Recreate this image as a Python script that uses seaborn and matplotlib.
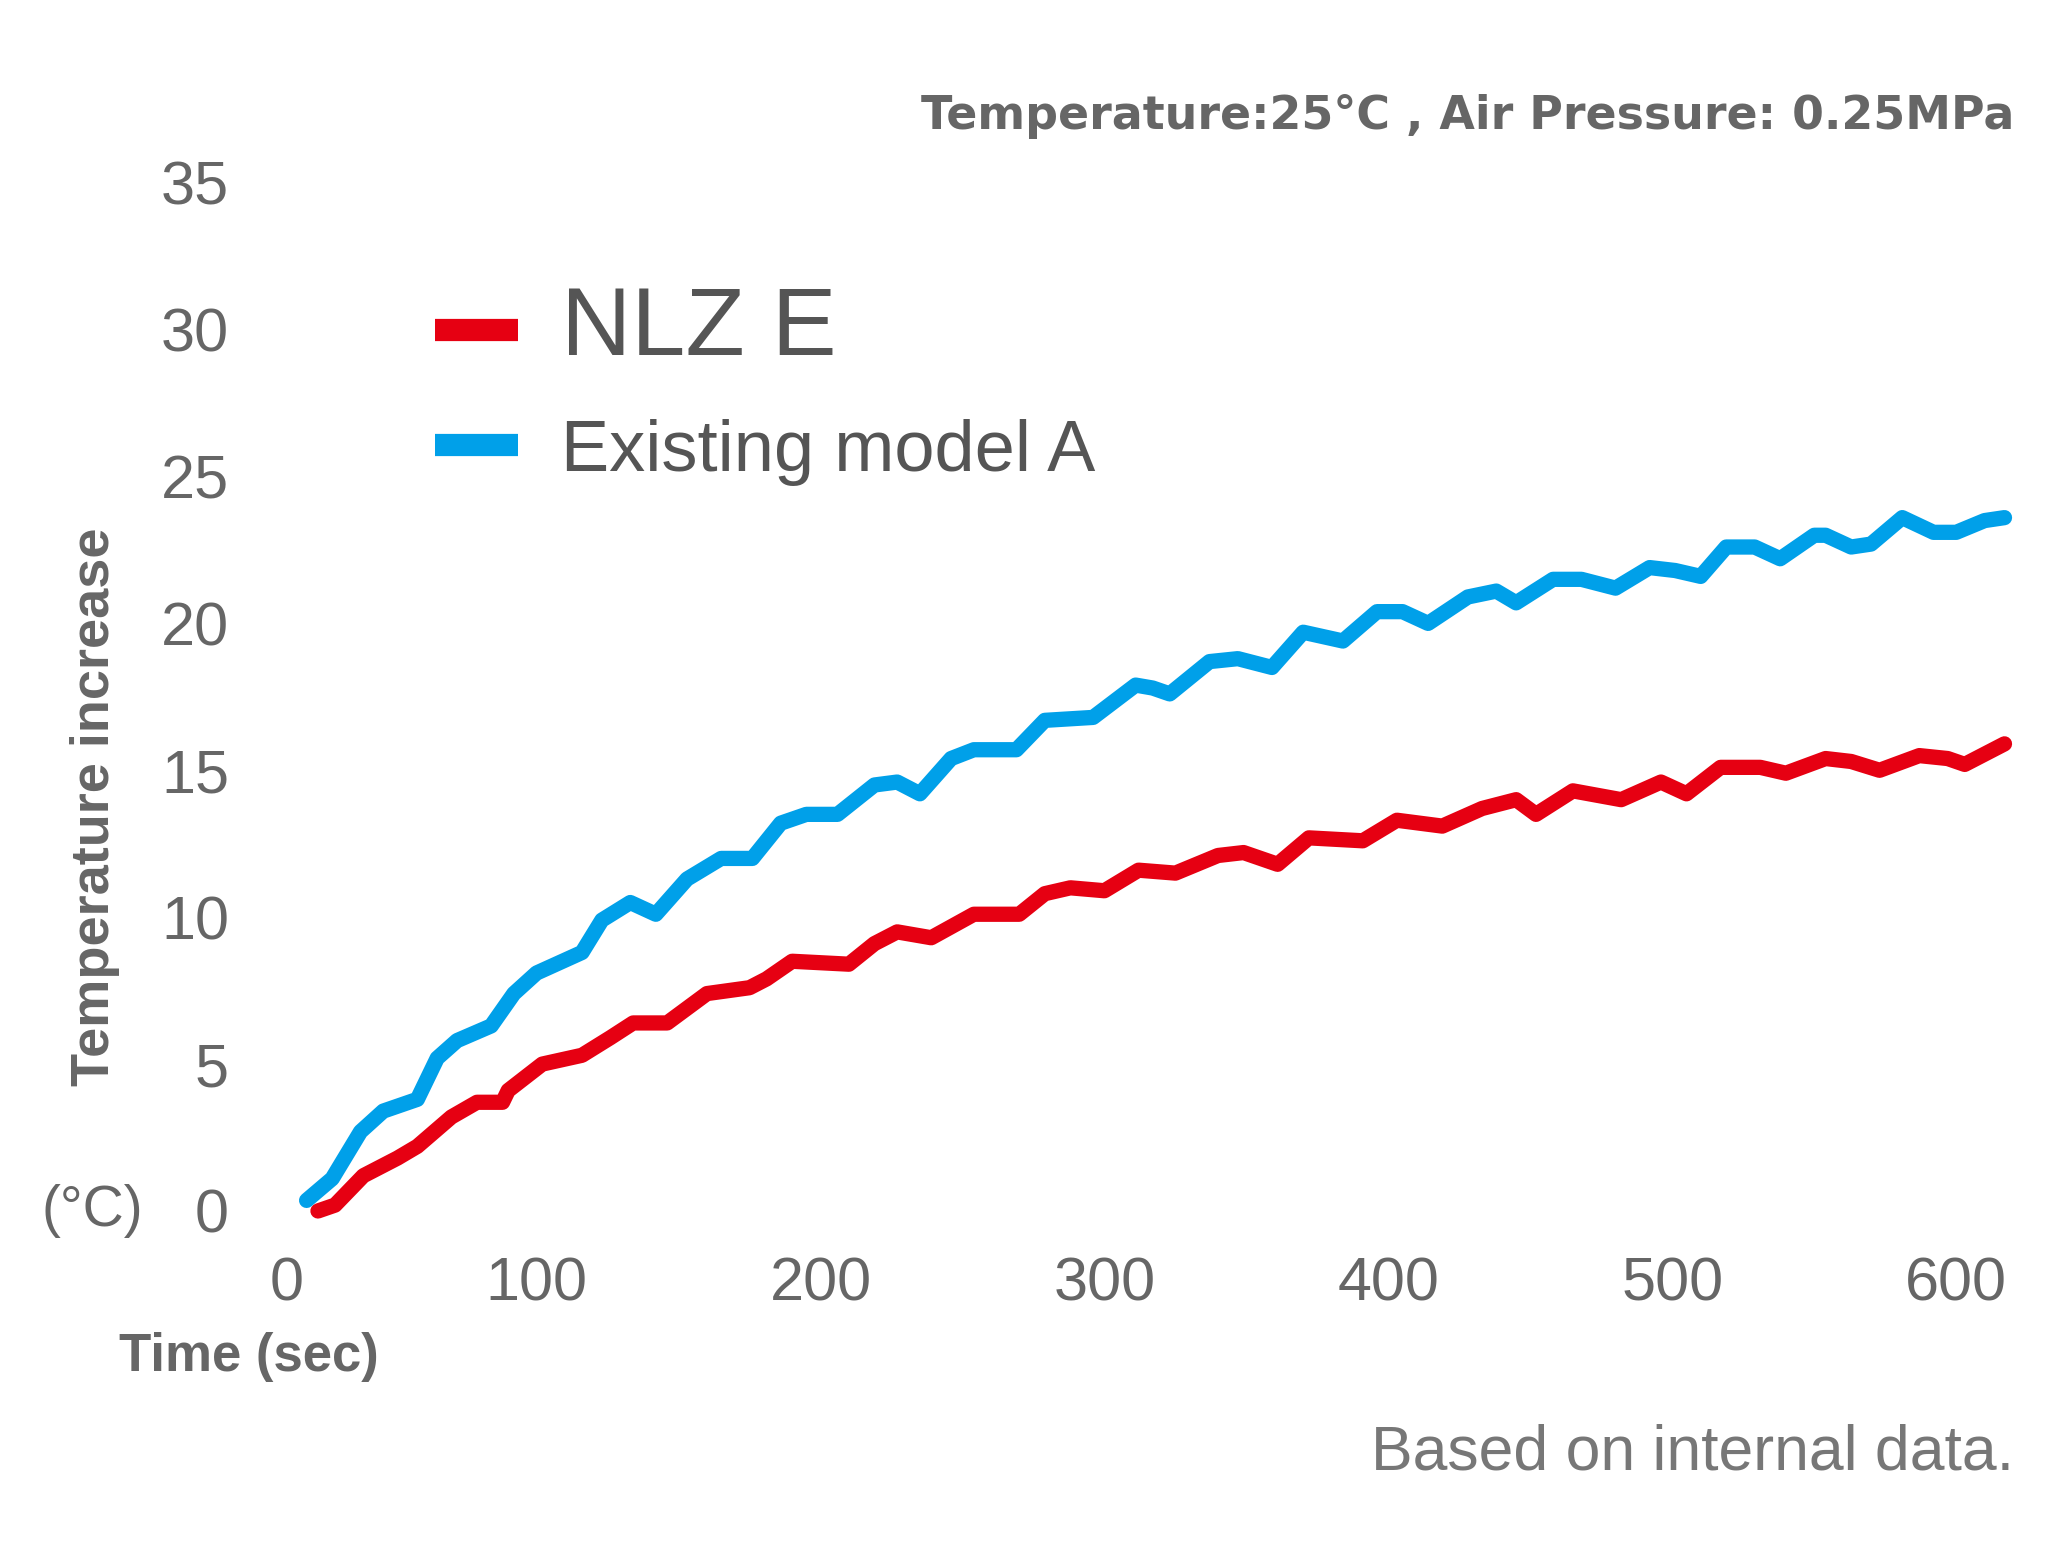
import pandas as pd
import matplotlib
matplotlib.use('Agg')
import matplotlib.pyplot as plt
import matplotlib.transforms as mtransforms
import seaborn as sns

# Series (time in sec, temperature rise in deg C)
nlz_time = [23, 29, 39, 51, 58, 70, 79, 88, 90, 102, 116, 126, 134, 146, 160, 175, 181, 190,
            210, 219, 227, 239, 254, 270, 279, 288, 300, 312, 325, 340, 349, 361, 372, 391,
            403, 419, 433, 445, 452, 465, 482, 496, 505, 517, 531, 540, 554, 563, 573, 587,
            597, 603, 617]
nlz_temp = [0.0, 0.2, 1.2, 1.8, 2.2, 3.2, 3.7, 3.7, 4.1, 5.0, 5.3, 5.9, 6.4, 6.4, 7.4, 7.6, 7.9, 8.5,
            8.4, 9.1, 9.5, 9.3, 10.1, 10.1, 10.8, 11.0, 10.9, 11.6, 11.5, 12.1, 12.2, 11.8, 12.7, 12.6,
            13.3, 13.1, 13.7, 14.0, 13.5, 14.3, 14.0, 14.6, 14.2, 15.1, 15.1, 14.9, 15.4, 15.3, 15.0, 15.5,
            15.4, 15.2, 15.9]

old_time = [19, 28, 38, 46, 58, 65, 72, 84, 92, 100, 116, 123, 133, 142, 153, 165, 176, 186, 195, 206,
            219, 227, 235, 246, 254, 269, 279, 296, 311, 317, 323, 337, 347, 359, 370, 384, 396, 405,
            414, 428, 438, 445, 458, 468, 480, 492, 501, 510, 519, 529, 538, 550, 554, 563, 570, 581,
            592, 600, 610, 617]
old_temp = [0.36, 1.1, 2.7, 3.4, 3.8, 5.2, 5.8, 6.3, 7.4, 8.1, 8.8, 9.9, 10.5, 10.1, 11.3, 12.0, 12.0, 13.2,
            13.5, 13.5, 14.5, 14.6, 14.2, 15.4, 15.7, 15.7, 16.7, 16.8, 17.9, 17.8, 17.6, 18.7, 18.8, 18.5,
            19.7, 19.4, 20.4, 20.4, 20.0, 20.9, 21.1, 20.7, 21.5, 21.5, 21.2, 21.9, 21.8, 21.6, 22.6, 22.6,
            22.2, 23.0, 23.0, 22.6, 22.7, 23.6, 23.1, 23.1, 23.5, 23.6]

series_names = ['NLZ E', 'Existing model A']
series_colors = ['#E60012', '#00A0E9']
x_ticks = [0, 100, 200, 300, 400, 500, 600]
y_ticks = [0, 5, 10, 15, 20, 25, 30, 35]

df = pd.concat([
    pd.DataFrame({'Time': nlz_time, 'Temp': nlz_temp, 'Model': series_names[0]}),
    pd.DataFrame({'Time': old_time, 'Temp': old_temp, 'Model': series_names[1]}),
])

sns.set_theme(style='white')
plt.rcParams['font.family'] = ['Liberation Sans', 'DejaVu Sans']

grey = '#666666'

fig = plt.figure(figsize=(20.71, 15.67), dpi=100)
ax = fig.add_axes([0.122, 0.2272, 0.850, 0.6562])

sns.lineplot(data=df, x='Time', y='Temp', hue='Model', hue_order=series_names,
             palette=series_colors, linewidth=11, solid_capstyle='round',
             solid_joinstyle='round', clip_on=False, ax=ax)

ax.set_xlim(0, 620)
ax.set_ylim(0, 35)
ax.set_xticks(x_ticks)
ax.set_yticks(y_ticks)
ax.set_xticklabels([str(v) for v in x_ticks], fontsize=44, color=grey)
ax.set_yticklabels([str(v) for v in y_ticks], fontsize=44, color=grey)
ax.tick_params(axis='x', length=0, pad=33)
ax.tick_params(axis='y', length=0, pad=17)
ax.set_xlabel('')
ax.set_ylabel('')
sns.despine(ax=ax, left=True, bottom=True)

# the "0" label sits a bit right of the axis origin in the original
zero_lbl = ax.get_xticklabels()[0]
zero_lbl.set_transform(zero_lbl.get_transform() +
                       mtransforms.ScaledTranslation(24.7 / 72, 0, fig.dpi_scale_trans))

# legend
leg = ax.legend(loc='upper left', bbox_to_anchor=(0.210, 0.818), bbox_transform=fig.transFigure,
                frameon=False, fontsize=52, handlelength=1.15, handletextpad=0.6,
                labelspacing=0.6, borderpad=0, borderaxespad=0)
for line in leg.get_lines():
    line.set_linewidth(16)
    line.set_solid_capstyle('butt')
texts = leg.get_texts()
texts[0].set_fontsize(70)
texts[0].set_color('#555555')
texts[1].set_color('#555555')

# annotations
fig.text(0.9725, 0.9257, 'Temperature:25°C , Air Pressure: 0.25MPa', ha='right', va='center',
         family=['DejaVu Sans'], fontsize=33, fontweight='bold', color=grey)
fig.text(0.046, 0.485, 'Temperature increase', rotation=90, ha='center', va='center',
         fontsize=39, fontweight='bold', color=grey)
fig.text(0.0447, 0.2272, '(°C)', ha='center', va='center', fontsize=41, color=grey)
fig.text(0.0575, 0.134, 'Time (sec)', ha='left', va='center', fontsize=38, fontweight='bold', color=grey)
fig.text(0.9725, 0.0726, 'Based on internal data.', ha='right', va='center', fontsize=45, color='#777777')

fig.savefig('out.png', dpi=100, facecolor='white')
